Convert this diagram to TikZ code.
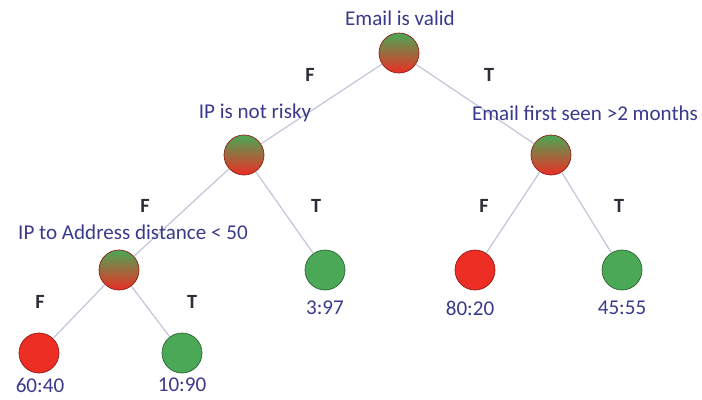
\documentclass[tikz,border=0pt]{standalone}
\usepackage{fontspec}
\setmainfont{Carlito}
\usepackage{xcolor}
\definecolor{txtblue}{RGB}{58,58,140}
\definecolor{leafgreen}{RGB}{74,168,86}
\definecolor{leafred}{RGB}{236,46,36}
\definecolor{linegray}{RGB}{196,198,216}
\definecolor{labgray}{RGB}{45,45,55}
\begin{document}
\begin{tikzpicture}[x=0.02cm,y=-0.02cm,
  split/.style={circle,minimum size=0.8cm,inner sep=0pt,draw=leafred!60!black,thin,top color=leafgreen,bottom color=leafred},
  yesleaf/.style={circle,minimum size=0.8cm,inner sep=0pt,draw=leafgreen!60!black,thin,fill=leafgreen},
  noleaf/.style={circle,minimum size=0.8cm,inner sep=0pt,draw=leafred!60!black,thin,fill=leafred},
  test/.style={text=txtblue,font=\fontsize{12}{14}\selectfont,inner sep=0pt},
  branch/.style={text=labgray,font=\fontsize{11.5}{13}\selectfont\bfseries,inner sep=0pt},
  link/.style={draw=linegray,line width=0.7pt}]
  \useasboundingbox (0,0) rectangle (702,399);
  % nodes of the tree
  \node[split] (valid) at (399,53) {};
  \node[split] (risky) at (244,155) {};
  \node[split] (seen) at (551,155) {};
  \node[split] (dist) at (119,270) {};
  \node[yesleaf] (ipT) at (325,270) {};
  \node[noleaf] (seenF) at (475,270) {};
  \node[yesleaf] (seenT) at (622,270) {};
  \node[noleaf] (distF) at (39,353) {};
  \node[yesleaf] (distT) at (182,353) {};
  % connectors
  \path[link] (valid) -- (risky);
  \path[link] (valid) -- (seen);
  \path[link] (risky) -- (dist);
  \path[link] (risky) -- (ipT);
  \path[link] (seen) -- (seenF);
  \path[link] (seen) -- (seenT);
  \path[link] (dist) -- (distF);
  \path[link] (dist) -- (distT);
  % questions
  \node[test] (qvalid) at (400,18) {Email is valid};
  \node[test] (qrisky) at (255,113) {IP is not risky};
  \node[test] (qseen) at (585,113) {Email first seen >2 months};
  \node[test] (qdist) at (133,232) {IP to Address distance < 50};
  % ratios
  \node[test] (r397) at (325,308) {3:97};
  \node[test] (r8020) at (470,308) {80:20};
  \node[test] (r4555) at (622,308) {45:55};
  \node[test] (r6040) at (40,385) {60:40};
  \node[test] (r1090) at (182,385) {10:90};
  % branch labels
  \node[branch] (bF1) at (310,75) {F};
  \node[branch] (bT1) at (489,75) {T};
  \node[branch] (bF2) at (145,206) {F};
  \node[branch] (bT2) at (316,206) {T};
  \node[branch] (bF3) at (484,206) {F};
  \node[branch] (bT3) at (619,206) {T};
  \node[branch] (bF4) at (40,302) {F};
  \node[branch] (bT4) at (192,302) {T};
\end{tikzpicture}
\end{document}
